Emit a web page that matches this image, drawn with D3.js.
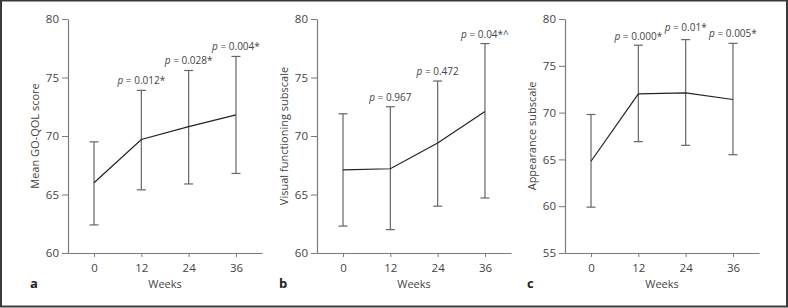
<!DOCTYPE html>
<html>
<head>
<meta charset="utf-8">
<script src="https://cdn.jsdelivr.net/npm/d3@7"></script>
<style>
  body { margin: 0; background: #fff; }
  svg { display: block; font-family: "Open Sans", sans-serif; }
  .axis path, .axis line { stroke: #7a7a7a; }
  .axis text { fill: #444; font-size: 11.5px; font-family: "Open Sans", sans-serif; }
</style>
</head>
<body>
<div id="content"></div>
<script>
// shared x categories
const weeks = [0, 12, 24, 36];

// panel a
const meanA = [66.0, 69.7, 70.8, 71.8];
const lowA  = [62.4, 65.4, 65.9, 66.8];
const highA = [69.5, 73.9, 75.6, 76.8];
const pA    = [null, "0.012*", "0.028*", "0.004*"];

// panel b
const meanB = [67.1, 67.2, 69.4, 72.1];
const lowB  = [62.3, 62.0, 64.0, 64.7];
const highB = [71.9, 72.5, 74.7, 77.9];
const pB    = [null, "0.967", "0.472", "0.04*^"];

// panel c
const meanC = [64.8, 72.0, 72.1, 71.4];
const lowC  = [59.9, 66.9, 66.5, 65.5];
const highC = [69.8, 77.2, 77.8, 77.4];
const pC    = [null, "0.000*", "0.01*", "0.005*"];

const yTicksAB = [60, 65, 70, 75, 80];
const yTicksC  = [55, 60, 65, 70, 75, 80];

const W = 788, H = 308;
const plotTop = 19, plotBottom = 253;

const panels = [
  { letter: "a", title: "Mean GO-QOL score", left: 68,  right: 262, ydom: [60, 80], yticks: yTicksAB,
    mean: meanA, low: lowA, high: highA, p: pA, pdy: [0, 6, 6, 6] },
  { letter: "b", title: "Visual functioning subscale", left: 317, right: 511, ydom: [60, 80], yticks: yTicksAB,
    mean: meanB, low: lowB, high: highB, p: pB, pdy: [0, 6, 6, 6] },
  { letter: "c", title: "Appearance subscale", left: 565, right: 759, ydom: [55, 80], yticks: yTicksC,
    mean: meanC, low: lowC, high: highC, p: pC, pdy: [0, 5, 9, 6] }
];

const svg = d3.select("#content")
  .append("svg")
  .attr("width", W)
  .attr("height", H);

svg.append("rect")
  .attr("width", W).attr("height", H)
  .attr("fill", "#fff");

// outer frame
svg.append("rect")
  .attr("x", 1).attr("y", 0.5)
  .attr("width", W - 2).attr("height", H - 2)
  .attr("fill", "none")
  .attr("stroke", "#3a3a3a")
  .attr("stroke-width", 2);

for (const p of panels) {
  const g = svg.append("g");

  const x = d3.scalePoint()
    .domain(weeks)
    .range([p.left, p.right])
    .padding(0.55);

  const y = d3.scaleLinear()
    .domain(p.ydom)
    .range([plotBottom, plotTop]);

  g.append("g")
    .attr("class", "axis")
    .attr("transform", "translate(0," + plotBottom + ")")
    .call(d3.axisBottom(x).tickSize(4).tickSizeOuter(0).tickPadding(7));

  g.append("g")
    .attr("class", "axis")
    .attr("transform", "translate(" + p.left + ",0)")
    .call(d3.axisLeft(y).tickValues(p.yticks).tickSize(6).tickSizeOuter(0).tickPadding(3));

  g.selectAll(".domain").attr("stroke-width", 1.2);

  // error bars
  const capW = 4.5;
  weeks.forEach((wk, i) => {
    const cx = x(wk);
    g.append("line")
      .attr("x1", cx).attr("x2", cx)
      .attr("y1", y(p.low[i])).attr("y2", y(p.high[i]))
      .attr("stroke", "#666").attr("stroke-width", 1.2);
    [p.low[i], p.high[i]].forEach(v => {
      g.append("line")
        .attr("x1", cx - capW).attr("x2", cx + capW)
        .attr("y1", y(v)).attr("y2", y(v))
        .attr("stroke", "#666").attr("stroke-width", 1.2);
    });
  });

  // mean line
  const line = d3.line()
    .x((d, i) => x(weeks[i]))
    .y(d => y(d));
  g.append("path")
    .datum(p.mean)
    .attr("d", line)
    .attr("fill", "none")
    .attr("stroke", "#222")
    .attr("stroke-width", 1.2);

  // p labels
  weeks.forEach((wk, i) => {
    if (!p.p[i]) return;
    const t = g.append("text")
      .attr("x", x(wk))
      .attr("y", y(p.high[i]) - p.pdy[i])
      .attr("text-anchor", "middle")
      .attr("font-size", 10)
      .attr("fill", "#444");
    t.append("tspan").attr("font-style", "italic").text("p");
    t.append("tspan").text(" = " + p.p[i]);
  });

  // axis titles
  g.append("text")
    .attr("x", (p.left + p.right) / 2)
    .attr("y", 288)
    .attr("text-anchor", "middle")
    .attr("font-size", 11)
    .attr("fill", "#444")
    .text("Weeks");

  g.append("text")
    .attr("transform", "translate(" + (p.left - 29) + "," + ((plotTop + plotBottom) / 2) + ")rotate(-90)")
    .attr("text-anchor", "middle")
    .attr("font-size", 11)
    .attr("fill", "#444")
    .text(p.title);

  g.append("text")
    .attr("x", p.left - 38)
    .attr("y", 288)
    .attr("font-size", 13)
    .attr("font-weight", "bold")
    .attr("fill", "#222")
    .text(p.letter);
}
</script>
</body>
</html>
